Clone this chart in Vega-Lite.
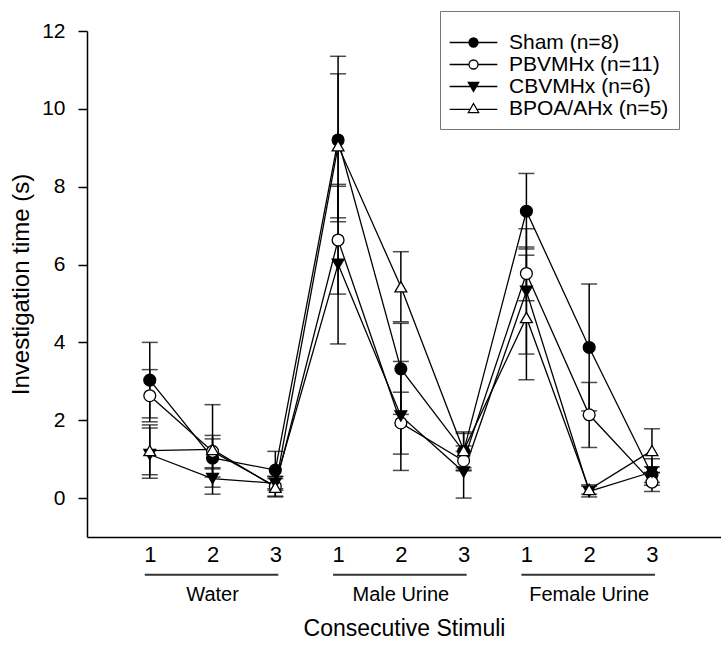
{
  "$schema": "https://vega.github.io/schema/vega-lite/v6.json",
  "width": 634,
  "height": 506,
  "autosize": {"type": "none"},
  "padding": {"left": 87, "top": 31, "right": 0, "bottom": 111},
  "background": "white",
  "config": {
    "view": {"stroke": null},
    "font": "Liberation Sans",
    "axis": {"grid": false, "domainColor": "#000", "tickColor": "#000", "labelColor": "#000", "titleColor": "#000", "titleFontWeight": "normal", "labelFont": "Liberation Sans", "titleFont": "Liberation Sans"}
  },
  "datasets": {
    "stim": [
      {"group": "Sham (n=8)", "pos": 1, "mean": 3.03, "lo": 2.06, "hi": 4.0},
      {"group": "Sham (n=8)", "pos": 2, "mean": 1.03, "lo": 0.54, "hi": 1.52},
      {"group": "Sham (n=8)", "pos": 3, "mean": 0.72, "lo": 0.24, "hi": 1.2},
      {"group": "Sham (n=8)", "pos": 4, "mean": 9.2, "lo": 7.1, "hi": 11.35},
      {"group": "Sham (n=8)", "pos": 5, "mean": 3.32, "lo": 2.15, "hi": 4.49},
      {"group": "Sham (n=8)", "pos": 6, "mean": 1.2, "lo": 0.7, "hi": 1.7},
      {"group": "Sham (n=8)", "pos": 7, "mean": 7.37, "lo": 6.4, "hi": 8.34},
      {"group": "Sham (n=8)", "pos": 8, "mean": 3.87, "lo": 2.24, "hi": 5.5},
      {"group": "Sham (n=8)", "pos": 9, "mean": 0.6, "lo": 0.4, "hi": 0.8},
      {"group": "PBVMHx (n=11)", "pos": 1, "mean": 2.63, "lo": 1.96, "hi": 3.3},
      {"group": "PBVMHx (n=11)", "pos": 2, "mean": 1.2, "lo": 0.78, "hi": 1.61},
      {"group": "PBVMHx (n=11)", "pos": 3, "mean": 0.3, "lo": 0.05, "hi": 0.55},
      {"group": "PBVMHx (n=11)", "pos": 4, "mean": 6.63, "lo": 5.24, "hi": 8.01},
      {"group": "PBVMHx (n=11)", "pos": 5, "mean": 1.93, "lo": 1.13, "hi": 2.72},
      {"group": "PBVMHx (n=11)", "pos": 6, "mean": 0.96, "lo": 0.72, "hi": 1.2},
      {"group": "PBVMHx (n=11)", "pos": 7, "mean": 5.77, "lo": 5.07, "hi": 6.45},
      {"group": "PBVMHx (n=11)", "pos": 8, "mean": 2.14, "lo": 1.3, "hi": 2.97},
      {"group": "PBVMHx (n=11)", "pos": 9, "mean": 0.41, "lo": 0.17, "hi": 0.65},
      {"group": "CBVMHx (n=6)", "pos": 1, "mean": 1.12, "lo": 0.51, "hi": 1.8},
      {"group": "CBVMHx (n=6)", "pos": 2, "mean": 0.5, "lo": 0.28, "hi": 0.75},
      {"group": "CBVMHx (n=6)", "pos": 3, "mean": 0.38, "lo": 0.2, "hi": 0.56},
      {"group": "CBVMHx (n=6)", "pos": 4, "mean": 6.01, "lo": 3.96, "hi": 8.06},
      {"group": "CBVMHx (n=6)", "pos": 5, "mean": 2.11, "lo": 0.71, "hi": 3.51},
      {"group": "CBVMHx (n=6)", "pos": 6, "mean": 0.67, "lo": 0.0, "hi": 1.34},
      {"group": "CBVMHx (n=6)", "pos": 7, "mean": 5.31, "lo": 3.7, "hi": 6.92},
      {"group": "CBVMHx (n=6)", "pos": 8, "mean": 0.17, "lo": 0.03, "hi": 0.3},
      {"group": "CBVMHx (n=6)", "pos": 9, "mean": 0.67, "lo": 0.33, "hi": 1.01},
      {"group": "BPOA/AHx (n=5)", "pos": 1, "mean": 1.22, "lo": 0.6, "hi": 1.88},
      {"group": "BPOA/AHx (n=5)", "pos": 2, "mean": 1.25, "lo": 0.1, "hi": 2.4},
      {"group": "BPOA/AHx (n=5)", "pos": 3, "mean": 0.28, "lo": 0.03, "hi": 0.5},
      {"group": "BPOA/AHx (n=5)", "pos": 4, "mean": 9.05, "lo": 7.2, "hi": 10.9},
      {"group": "BPOA/AHx (n=5)", "pos": 5, "mean": 5.43, "lo": 4.53, "hi": 6.33},
      {"group": "BPOA/AHx (n=5)", "pos": 6, "mean": 1.22, "lo": 0.78, "hi": 1.66},
      {"group": "BPOA/AHx (n=5)", "pos": 7, "mean": 4.64, "lo": 3.04, "hi": 6.24},
      {"group": "BPOA/AHx (n=5)", "pos": 8, "mean": 0.22, "lo": 0.1, "hi": 0.34},
      {"group": "BPOA/AHx (n=5)", "pos": 9, "mean": 1.22, "lo": 0.66, "hi": 1.78}
    ],
    "groups": [
      {"stimulus": "Water", "start": 1, "end": 3, "mid": 2},
      {"stimulus": "Male Urine", "start": 4, "end": 6, "mid": 5},
      {"stimulus": "Female Urine", "start": 7, "end": 9, "mid": 8}
    ]
  },
  "layer": [
    {
      "data": {"name": "stim"},
      "mark": {"type": "rule", "color": "#000", "strokeWidth": 1.5},
      "encoding": {
        "x": {
          "field": "pos", "type": "quantitative", "title": "Consecutive Stimuli",
          "scale": {"domain": [0, 10.1], "nice": false, "zero": false},
          "axis": {"values": [1, 2, 3, 4, 5, 6, 7, 8, 9], "labelExpr": "'' + (((datum.value - 1) % 3) + 1)", "ticks": false, "labelFontSize": 22, "labelPadding": 7, "titleFontSize": 23, "titlePadding": 52, "domainWidth": 1.5, "labelFlush": false}
        },
        "y": {
          "field": "lo", "type": "quantitative", "title": "Investigation time (s)",
          "scale": {"domain": [-1, 12], "nice": false, "zero": false},
          "axis": {"values": [0, 2, 4, 6, 8, 10, 12], "tickSize": 9, "tickWidth": 1.5, "labelPadding": 13, "labelFontSize": 21, "titleFontSize": 24, "titlePadding": 8, "domainWidth": 1.5}
        },
        "y2": {"field": "hi"}
      }
    },
    {
      "data": {"name": "stim"},
      "mark": {"type": "tick", "orient": "horizontal", "color": "#000", "size": 16, "thickness": 1.5},
      "encoding": {
        "x": {"field": "pos", "type": "quantitative", "title": "Consecutive Stimuli"},
        "y": {"field": "lo", "type": "quantitative", "title": "Investigation time (s)"}
      }
    },
    {
      "data": {"name": "stim"},
      "mark": {"type": "tick", "orient": "horizontal", "color": "#000", "size": 16, "thickness": 1.5},
      "encoding": {
        "x": {"field": "pos", "type": "quantitative", "title": "Consecutive Stimuli"},
        "y": {"field": "hi", "type": "quantitative", "title": "Investigation time (s)"}
      }
    },
    {
      "data": {"name": "stim"},
      "mark": {"type": "line", "color": "#000", "strokeWidth": 1.3},
      "encoding": {
        "x": {"field": "pos", "type": "quantitative", "title": "Consecutive Stimuli"},
        "y": {"field": "mean", "type": "quantitative", "title": "Investigation time (s)"},
        "detail": {"field": "group", "type": "nominal"}
      }
    },
    {
      "data": {"name": "stim"},
      "mark": {"type": "point", "filled": true, "size": 140, "stroke": "#000", "strokeWidth": 1.3, "opacity": 1},
      "encoding": {
        "x": {"field": "pos", "type": "quantitative", "title": "Consecutive Stimuli"},
        "y": {"field": "mean", "type": "quantitative", "title": "Investigation time (s)"},
        "shape": {
          "condition": [
            {"test": "datum.group === 'CBVMHx (n=6)'", "value": "triangle-down"},
            {"test": "datum.group === 'BPOA/AHx (n=5)'", "value": "triangle-up"}
          ],
          "value": "circle"
        },
        "fill": {
          "condition": {"test": "datum.group === 'Sham (n=8)' || datum.group === 'CBVMHx (n=6)'", "value": "#000"},
          "value": "#fff"
        }
      }
    },
    {
      "data": {"name": "stim"},
      "mark": {"type": "point", "filled": false, "strokeWidth": 1.3, "opacity": 0},
      "encoding": {
        "x": {"field": "pos", "type": "quantitative", "title": "Consecutive Stimuli"},
        "y": {"field": "mean", "type": "quantitative", "title": "Investigation time (s)"},
        "shape": {
          "field": "group", "type": "nominal",
          "scale": {"domain": ["Sham (n=8)", "PBVMHx (n=11)", "CBVMHx (n=6)", "BPOA/AHx (n=5)"], "range": ["M-5.3,0H-1M1,0H5.3M1,0A1,1,0,1,1,-1,0A1,1,0,1,1,1,0Z", "M-5.3,0H-1M1,0H5.3M1,0A1,1,0,1,1,-1,0A1,1,0,1,1,1,0Z", "M-5.3,0H5.3M-1.15,-0.9L1.15,-0.9L0,1.1Z", "M-5.3,0.2H-0.75M0.75,0.2H5.3M0,-1.1L1.15,0.9L-1.15,0.9Z"]},
          "legend": {
            "orient": "none", "legendX": 353, "legendY": -20,
            "title": " ", "titleFontSize": 8, "titlePadding": 3,
            "padding": 10, "strokeColor": "#777", "fillColor": "#fff",
            "labelFontSize": 21, "labelFont": "Liberation Sans", "labelColor": "#000", "labelLimit": 400,
            "symbolSize": 81, "symbolOffset": 13, "labelOffset": 25, "rowPadding": 0,
            "symbolOpacity": 1, "symbolStrokeWidth": 1.3
          }
        },
        "fill": {
          "field": "group", "type": "nominal",
          "scale": {"domain": ["Sham (n=8)", "PBVMHx (n=11)", "CBVMHx (n=6)", "BPOA/AHx (n=5)"], "range": ["#000", "#fff", "#000", "#fff"]},
          "legend": {
            "orient": "none", "legendX": 353, "legendY": -20,
            "title": " ", "titleFontSize": 8, "titlePadding": 3,
            "padding": 10, "strokeColor": "#777", "fillColor": "#fff",
            "labelFontSize": 21, "labelFont": "Liberation Sans", "labelColor": "#000", "labelLimit": 400,
            "symbolSize": 81, "symbolOffset": 13, "labelOffset": 25, "rowPadding": 0,
            "symbolOpacity": 1, "symbolStrokeWidth": 1.3
          }
        },
        "stroke": {
          "field": "group", "type": "nominal",
          "scale": {"domain": ["Sham (n=8)", "PBVMHx (n=11)", "CBVMHx (n=6)", "BPOA/AHx (n=5)"], "range": ["#000", "#000", "#000", "#000"]},
          "legend": {
            "orient": "none", "legendX": 353, "legendY": -20,
            "title": " ", "titleFontSize": 8, "titlePadding": 3,
            "padding": 10, "strokeColor": "#777", "fillColor": "#fff",
            "labelFontSize": 21, "labelFont": "Liberation Sans", "labelColor": "#000", "labelLimit": 400,
            "symbolSize": 81, "symbolOffset": 13, "labelOffset": 25, "rowPadding": 0,
            "symbolOpacity": 1, "symbolStrokeWidth": 1.3
          }
        }
      }
    },
    {
      "data": {"name": "groups"},
      "mark": {"type": "rule", "color": "#333", "strokeWidth": 2, "xOffset": -5, "x2Offset": 3},
      "encoding": {
        "x": {"field": "start", "type": "quantitative", "title": "Consecutive Stimuli"},
        "x2": {"field": "end"},
        "y": {"datum": -1.97, "type": "quantitative", "title": "Investigation time (s)"}
      }
    },
    {
      "data": {"name": "groups"},
      "mark": {"type": "text", "fontSize": 20, "font": "Liberation Sans", "baseline": "middle", "align": "center", "color": "#000"},
      "encoding": {
        "x": {"field": "mid", "type": "quantitative", "title": "Consecutive Stimuli"},
        "y": {"datum": -2.48, "type": "quantitative", "title": "Investigation time (s)"},
        "text": {"field": "stimulus", "type": "nominal"}
      }
    }
  ]
}
